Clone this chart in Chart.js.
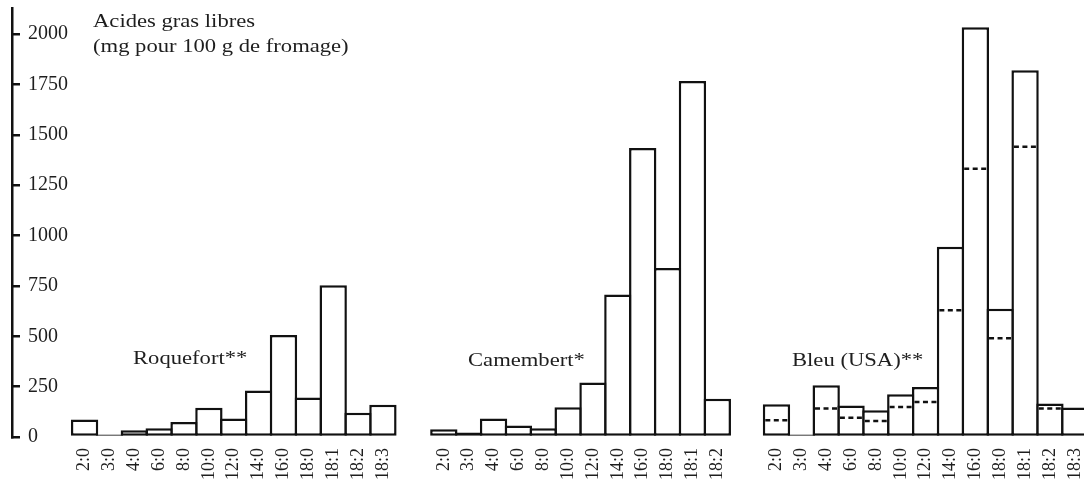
<!DOCTYPE html>
<html>
<head>
<meta charset="utf-8">
<script src="https://cdn.jsdelivr.net/npm/chart.js@4.4.0/dist/chart.umd.min.js"></script>
<style>
  body { margin: 0; background: #fff; }
  #wrap { position: relative; width: 1084px; height: 484px; }
  canvas { position: absolute; left: 0; top: 0; }
  .note {
    position: absolute;
    font-family: 'Liberation Serif', serif;
    font-size: 19.5px;
    line-height: 25px;
    color: #1e1e1e;
    white-space: nowrap;
    transform: scaleX(1.16);
    transform-origin: left top;
  }
</style>
</head>
<body>
<div id="wrap">
  <canvas id="fattyAcidChart" width="1084" height="484"></canvas>
  <div class="note" style="left:93px; top:8px;">Acides gras libres<br>(mg pour 100 g de fromage)</div>
  <div class="note" style="left:133px; top:345px;">Roquefort**</div>
  <div class="note" style="left:468px; top:347px;">Camembert*</div>
  <div class="note" style="left:792px; top:347px;">Bleu (USA)**</div>
</div>
<script>
var acidLabels = ["2:0", "3:0", "4:0", "6:0", "8:0", "10:0", "12:0", "14:0", "16:0", "18:0", "18:1", "18:2", "18:3"];
var camembertLabels = acidLabels.slice(0, 12);

var roquefortValues = [87, 5, 34, 44, 75, 145, 92, 231, 506, 196, 754, 120, 160];
var camembertValues = [38, 22, 92, 57, 44, 148, 271, 707, 1435, 839, 1767, 190];
var bleuValues = [162, 0, 257, 156, 133, 212, 248, 945, 2035, 637, 1821, 166, 146];
// dashed level inside the Bleu bars
var bleuInner = [83, null, 142, 96, 79, 149, 174, 629, 1332, 490, 1441, 142, null];

var yTicks = [0, 250, 500, 750, 1000, 1250, 1500, 1750, 2000];

// left edge of each group, in bar widths from the first Roquefort bar
var groupStart = [0, 14.45, 27.83];

function toPoints(values, start) {
    return values.map(function (v, i) {
        return { x: start + i + 0.5, y: v };
    });
}

var tickPositions = [];
var tickNames = [];
[acidLabels, camembertLabels, acidLabels].forEach(function (names, g) {
    names.forEach(function (name, i) {
        tickPositions.push(groupStart[g] + i + 0.5);
        tickNames.push(name);
    });
});

var ink = '#111';
var textInk = '#1e1e1e';

var barStyle = {
    backgroundColor: '#fff',
    borderColor: ink,
    borderWidth: 2.5,
    borderSkipped: false,
    grouped: false,
    barPercentage: 1.1,
    categoryPercentage: 1,
    minBarLength: 2.5
};

var dashPlugin = {
    id: 'bleuDashes',
    afterDatasetsDraw: function (chart) {
        var meta = chart.getDatasetMeta(2);
        var yScale = chart.scales.y;
        var ctx = chart.ctx;
        ctx.save();
        ctx.strokeStyle = ink;
        ctx.lineWidth = 2.5;
        ctx.setLineDash([5, 3.5]);
        meta.data.forEach(function (bar, i) {
            if (bleuInner[i] === null) return;
            var y = yScale.getPixelForValue(bleuInner[i]);
            var half = bar.width / 2 - 2.5;
            ctx.beginPath();
            ctx.moveTo(bar.x - half, y);
            ctx.lineTo(bar.x + half, y);
            ctx.stroke();
        });
        ctx.restore();
    }
};

// keep tick labels from shrinking the plot area
function noEdgePadding(scale) {
    scale.paddingTop = 0;
    scale.paddingBottom = 0;
    scale.paddingLeft = 0;
    scale.paddingRight = 0;
}

Chart.defaults.font.family = "'Liberation Serif', serif";

var ctx = document.getElementById('fattyAcidChart').getContext('2d');
var chart = new Chart(ctx, {
    type: 'bar',
    data: {
        datasets: [
            Object.assign({ label: 'Roquefort**', data: toPoints(roquefortValues, groupStart[0]) }, barStyle),
            Object.assign({ label: 'Camembert*', data: toPoints(camembertValues, groupStart[1]) }, barStyle),
            Object.assign({ label: 'Bleu (USA)**', data: toPoints(bleuValues, groupStart[2]) }, barStyle)
        ]
    },
    options: {
        responsive: false,
        animation: false,
        layout: { padding: { top: 8, left: 0, right: 0, bottom: 0 } },
        plugins: {
            legend: { display: false },
            tooltip: { enabled: false }
        },
        scales: {
            x: {
                type: 'linear',
                offset: false,
                min: -2.42,
                max: 40.7,
                afterFit: function (scale) {
                    scale.height = 47;
                    noEdgePadding(scale);
                },
                afterBuildTicks: function (scale) {
                    scale.ticks = tickPositions.map(function (p) { return { value: p }; });
                },
                border: { display: false },
                grid: { display: false, offset: false },
                ticks: {
                    autoSkip: false,
                    minRotation: 90,
                    maxRotation: 90,
                    padding: 3,
                    color: textInk,
                    font: { size: 18 },
                    callback: function (value, index) { return tickNames[index]; }
                }
            },
            y: {
                min: 0,
                max: 2130,
                afterFit: function (scale) {
                    scale.width = 12;
                    noEdgePadding(scale);
                },
                afterBuildTicks: function (scale) {
                    scale.ticks = yTicks.map(function (v) { return { value: v }; });
                },
                border: { color: ink, width: 2.5 },
                grid: { drawOnChartArea: false, tickLength: -8, color: ink, lineWidth: 2.5 },
                ticks: {
                    mirror: true,
                    padding: 16,
                    color: textInk,
                    font: { size: 20 },
                    callback: function (value) { return String(value); }
                }
            }
        }
    },
    plugins: [dashPlugin]
});
</script>
</body>
</html>
